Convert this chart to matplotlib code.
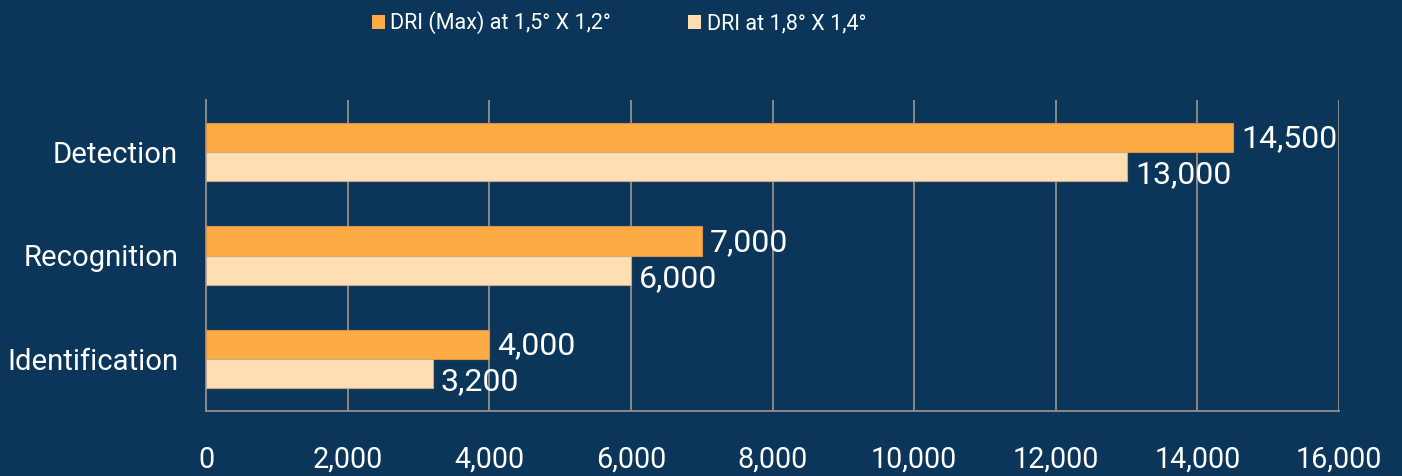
import matplotlib
matplotlib.use("Agg")
import matplotlib.pyplot as plt
from matplotlib.patches import Patch
import numpy as np

categories = ["Detection", "Recognition", "Identification"]
series_names = ["DRI (Max) at 1,5° X 1,2°", "DRI at 1,8° X 1,4°"]
dri_max = [14500, 7000, 4000]
dri_wide = [13000, 6000, 3200]
xticks = [0, 2000, 4000, 6000, 8000, 10000, 12000, 14000, 16000]

bg = "#0c3659"
c_orange = "#fdab44"
c_light = "#ffdeb3"
grid_c = "#8a8a8a"

plt.rcParams["font.family"] = ["Roboto", "DejaVu Sans"]

fig = plt.figure(figsize=(14.02, 4.76), dpi=100, facecolor=bg)
W, H = 1402, 476
ax = fig.add_axes([206 / W, 1 - 411 / H, (1339 - 206) / W, (411 - 100) / H])
ax.set_facecolor(bg)

y = np.arange(len(categories))
h = 0.28
ax.barh(y - h / 2, dri_max, height=h, color=c_orange, edgecolor="#d8914a", linewidth=0.8, zorder=3)
ax.barh(y + h / 2, dri_wide, height=h, color=c_light, edgecolor="#c9aa8a", linewidth=0.8, zorder=3)

ax.set_xlim(0, 16000)
ax.set_ylim(len(categories) - 0.5, -0.5)
ax.set_xticks(xticks)
ax.set_xticklabels([f"{v:,}" for v in xticks])
ax.set_yticks(y)
ax.set_yticklabels(categories)
ax.tick_params(axis="both", length=0, colors="white")
ax.tick_params(axis="x", pad=25, labelsize=20.7)
ax.tick_params(axis="y", pad=20, labelsize=21.1)
ax.grid(axis="x", color=grid_c, linewidth=1.4, zorder=0)
for s in ["top", "right"]:
    ax.spines[s].set_visible(False)
for s in ["left", "bottom"]:
    ax.spines[s].set_color(grid_c)
    ax.spines[s].set_linewidth(1.4)

for yi, v in zip(y - h / 2, dri_max):
    ax.annotate(f"{v:,}", (v, yi), xytext=(6, -1), textcoords="offset points",
                va="center", ha="left", color="white", fontsize=23)
for yi, v in zip(y + h / 2, dri_wide):
    ax.annotate(f"{v:,}", (v, yi), xytext=(6, -6), textcoords="offset points",
                va="center", ha="left", color="white", fontsize=23)

handles = [Patch(facecolor=c_orange, edgecolor="none"), Patch(facecolor=c_light, edgecolor="none")]
fig.legend(handles, series_names, loc="center", bbox_to_anchor=(0.5 * (373 + 865) / W, 1 - 23 / H),
           ncol=2, frameon=False, fontsize=15.5, labelcolor="white",
           handlelength=0.6, handleheight=0.6, handletextpad=0.25, columnspacing=3.6)

fig.savefig("out.png", dpi=100, facecolor=bg)
